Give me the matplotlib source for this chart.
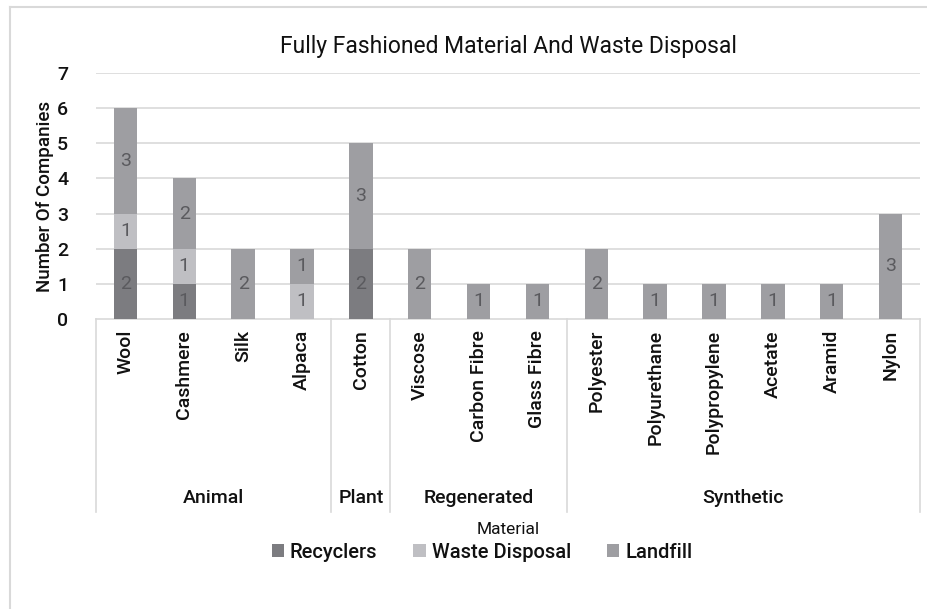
import matplotlib
matplotlib.use("Agg")
import matplotlib.pyplot as plt
import matplotlib.transforms as mtransforms
from matplotlib.lines import Line2D
from matplotlib.patches import Patch
import numpy as np

plt.rcParams['font.family'] = ['Roboto', 'DejaVu Sans']
plt.rcParams['font.weight'] = 'medium'

categories = ["Wool", "Cashmere", "Silk", "Alpaca", "Cotton", "Viscose", "Carbon Fibre",
              "Glass Fibre", "Polyester", "Polyurethane", "Polypropylene", "Acetate",
              "Aramid", "Nylon"]
groups = ["Animal", "Plant", "Regenerated", "Synthetic"]
group_sizes = [4, 1, 3, 6]
series_names = ["Recyclers", "Waste Disposal", "Landfill"]
recyclers = [2, 1, 0, 0, 2, 0, 0, 0, 0, 0, 0, 0, 0, 0]
waste_disposal = [1, 1, 0, 1, 0, 0, 0, 0, 0, 0, 0, 0, 0, 0]
landfill = [3, 2, 2, 1, 3, 2, 1, 1, 2, 1, 1, 1, 1, 3]
yticks = [0, 1, 2, 3, 4, 5, 6, 7]

colors = ["#7c7c80", "#bfbfc3", "#9e9ea2"]
label_color = "#5a5a5e"
text_color = "#111111"
grid_color = "#d9d9d9"

W, H = 928, 609
fig = plt.figure(figsize=(W / 100, H / 100), dpi=100)
ax_left, ax_right = 96 / W, 920 / W
ax_bottom, ax_top = (H - 319) / H, (H - 73) / H
ax = fig.add_axes([ax_left, ax_bottom, ax_right - ax_left, ax_top - ax_bottom])

x = np.arange(len(categories))
bottom = np.zeros(len(categories))
for vals, col in zip([recyclers, waste_disposal, landfill], colors):
    vals = np.array(vals, dtype=float)
    ax.bar(x, vals, bottom=bottom, width=0.4, color=col, zorder=3)
    for xi, v, b in zip(x, vals, bottom):
        if v > 0:
            ax.text(xi, b + v / 2, f"{int(v)}", ha="center", va="center",
                    fontsize=14, color=label_color, zorder=4, fontweight="normal")
    bottom += vals

ax.set_xlim(-0.5, len(categories) - 0.5)
ax.set_ylim(0, 7)
ax.set_yticks(yticks)
ax.set_yticklabels([str(t) for t in yticks], fontsize=14, color=text_color)
ax.tick_params(axis="y", length=0, pad=20)
ax.set_xticks([])
for sp in ax.spines.values():
    sp.set_visible(False)
for t in yticks[1:]:
    ax.axhline(t, color=grid_color, lw=1.2, zorder=1)

# multi-level category axis
trans = mtransforms.blended_transform_factory(ax.transData, ax.transAxes)
axis_h = 246.0
line_bot = -(512 - 319) / axis_h
ax.plot([-0.5, len(categories) - 0.5], [0, 0], transform=trans, color=grid_color,
        lw=1.2, clip_on=False, zorder=2)
for i, c in enumerate(categories):
    ax.text(i, -11 / axis_h, c, rotation=90, ha="center", va="top",
            fontsize=14, transform=trans, color=text_color)
edges = np.concatenate([[0], np.cumsum(group_sizes)]) - 0.5
for e in edges:
    ax.plot([e, e], [0, line_bot], transform=trans, color=grid_color, lw=1.2,
            clip_on=False)
for g, a, b in zip(groups, edges[:-1], edges[1:]):
    ax.text((a + b) / 2, -(498 - 319) / axis_h, g, ha="center", va="center",
            fontsize=14, transform=trans, color=text_color)

fig.text(508 / W, (H - 46) / H,
         "Fully Fashioned Material And Waste Disposal", ha="center", va="center",
         fontsize=16.5, color=text_color, fontweight="normal")
fig.text(45 / W, (H - 196) / H, "Number Of Companies", rotation=90,
         ha="center", va="center", fontsize=13.5, color=text_color)
fig.text(508 / W, (H - 530) / H, "Material", ha="center", va="center",
         fontsize=12.5, color=text_color, fontweight="normal")

handles = [Patch(facecolor=c, edgecolor="none") for c in colors]
fig.legend(handles, series_names, loc="center", bbox_to_anchor=(482 / W, (H - 552) / H),
           ncol=3, frameon=False, fontsize=14.5, handlelength=0.6, handleheight=0.6,
           handletextpad=0.3, columnspacing=1.8, labelcolor=text_color)

# outer chart border
fig.add_artist(Line2D([10 / W, 1], [(H - 7) / H, (H - 7) / H], transform=fig.transFigure,
                      color=grid_color, lw=1.5))
fig.add_artist(Line2D([10 / W, 10 / W], [0, (H - 7) / H], transform=fig.transFigure,
                      color=grid_color, lw=1.5))

fig.savefig("out.png", dpi=100)
